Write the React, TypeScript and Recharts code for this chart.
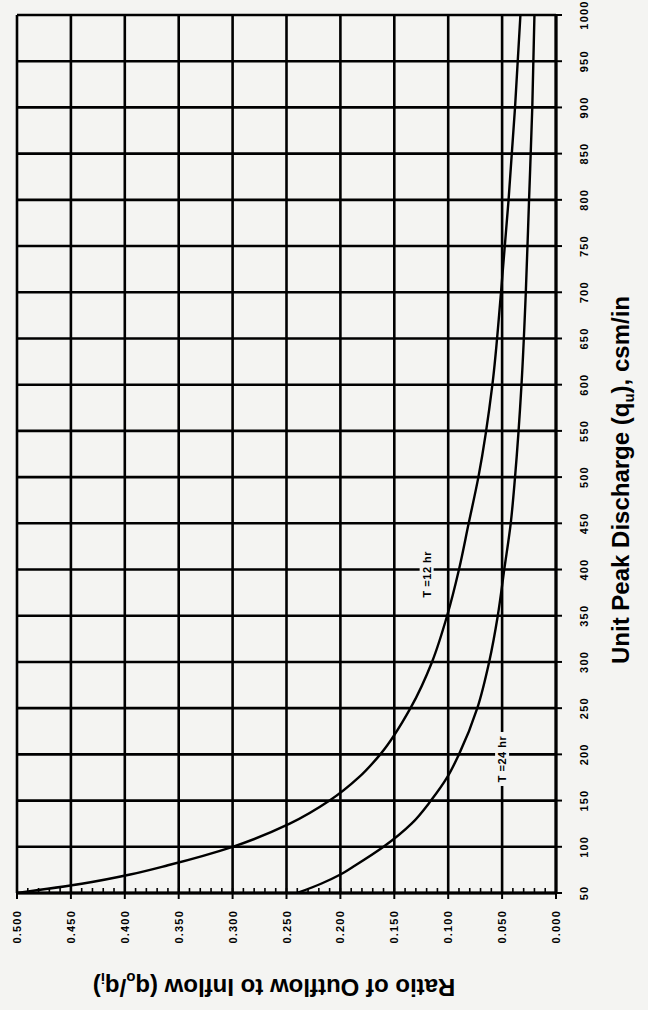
import { ComposedChart, Line, XAxis, YAxis, CartesianGrid, ReferenceDot } from 'recharts'

// unit peak discharge, csm/in
const discharge = [50, 60, 70, 80, 100, 125, 150, 175, 200, 250, 300, 350, 400, 450, 500, 600, 700, 800, 900, 1000]
// ratio of outflow to inflow for each storm duration
const ratioT12 = [0.5, 0.44, 0.395, 0.36, 0.3, 0.247, 0.21, 0.183, 0.163, 0.135, 0.115, 0.101, 0.09, 0.081, 0.072, 0.059, 0.051, 0.044, 0.038, 0.033]
const ratioT24 = [0.24, 0.218, 0.2, 0.186, 0.16, 0.134, 0.116, 0.101, 0.09, 0.073, 0.062, 0.054, 0.048, 0.042, 0.038, 0.032, 0.028, 0.025, 0.022, 0.02]

const ratioTicks = [0, 0.05, 0.1, 0.15, 0.2, 0.25, 0.3, 0.35, 0.4, 0.45, 0.5]
const dischargeTicks = [50, 100, 150, 200, 250, 300, 350, 400, 450, 500, 550, 600, 650, 700, 750, 800, 850, 900, 950, 1000]
const ratioMinorTicks = Array.from({ length: 51 }, (_, i) => i / 100)
const dischargeMinorTicks = Array.from({ length: 96 }, (_, i) => 50 + i * 10)

const data = discharge.map((q, i) => ({ q, t12: ratioT12[i], t24: ratioT24[i] }))

const tickFont = { fontFamily: 'Liberation Sans, Arial, sans-serif', fontWeight: 700, fontSize: 11, letterSpacing: 1.2 }
const titleFont = { fontFamily: 'Liberation Sans, Arial, sans-serif', fontWeight: 700, fontSize: 24 }

const RatioTick = ({ x, y, payload }: any) => (
  <text x={x} y={y + 9} transform={`rotate(-90, ${x}, ${y + 9})`} textAnchor="end" dominantBaseline="central" fill="#000" style={tickFont}>
    {Number(payload.value).toFixed(3)}
  </text>
)

const DischargeTick = ({ x, y, payload }: any) => (
  <text x={x + 20} y={y} transform={`rotate(-90, ${x + 20}, ${y})`} textAnchor="middle" dominantBaseline="central" fill="#000" style={tickFont}>
    {payload.value}
  </text>
)

// small inward tick marks along the axes
const MinorTickX = ({ x }: any) => <line x1={x} x2={x} y1={893} y2={888} stroke="#000" strokeWidth={1.6} />
const MinorTickY = ({ y }: any) => <line x1={551} x2={556} y1={y} y2={y} stroke="#000" strokeWidth={1.6} />

const curveLabel = (text: string) => (p: any) => (
  <g transform={`rotate(-90, ${p.cx}, ${p.cy})`}>
    <rect x={p.cx - 27} y={p.cy - 7} width={54} height={14} fill="#f4f4f2" />
    <text x={p.cx} y={p.cy} textAnchor="middle" dominantBaseline="central" fill="#000" style={{ ...tickFont, fontSize: 11, letterSpacing: 0.5 }}>
      {text}
    </text>
  </g>
)

function App() {
  return (
    <div style={{ position: 'absolute', left: 0, top: 0, width: 648, height: 1010, background: '#f4f4f2' }}>
      <ComposedChart width={648} height={1010} data={data} layout="vertical" margin={{ top: 15, left: 17, right: 52, bottom: 67 }}>
        <CartesianGrid stroke="#000" strokeWidth={2.6} />
        <XAxis type="number" dataKey="t12" domain={[0, 0.5]} reversed ticks={ratioTicks} interval={0} height={50}
          axisLine={{ stroke: '#000', strokeWidth: 3 }} tickLine={{ stroke: '#000', strokeWidth: 2 }} tickSize={6} tick={<RatioTick />} allowDataOverflow />
        <XAxis xAxisId="minor" type="number" domain={[0, 0.5]} reversed ticks={ratioMinorTicks} interval={0} mirror
          axisLine={false} tickLine={false} tick={<MinorTickX />} allowDataOverflow />
        <YAxis type="number" dataKey="q" orientation="right" reversed domain={[50, 1000]} ticks={dischargeTicks} interval={0} width={40}
          axisLine={{ stroke: '#000', strokeWidth: 3 }} tickLine={{ stroke: '#000', strokeWidth: 2 }} tickSize={6} tick={<DischargeTick />} allowDataOverflow />
        <YAxis yAxisId="minor" type="number" orientation="right" reversed domain={[50, 1000]} ticks={dischargeMinorTicks} interval={0} mirror
          axisLine={false} tickLine={false} tick={<MinorTickY />} allowDataOverflow />
        <Line type="monotone" dataKey="t12" stroke="#000" strokeWidth={2.4} dot={false} isAnimationActive={false} />
        <Line type="monotone" dataKey="t24" stroke="#000" strokeWidth={2.4} dot={false} isAnimationActive={false} />
        <ReferenceDot x={0.12} y={395} r={0} shape={curveLabel('T =12 hr')} />
        <ReferenceDot x={0.05} y={195} r={0} shape={curveLabel('T =24 hr')} />
      </ComposedChart>
      <svg width={648} height={1010} style={{ position: 'absolute', left: 0, top: 0, pointerEvents: 'none' }}>
        <text x={620} y={480} transform="rotate(-90, 620, 480)" textAnchor="middle" dominantBaseline="central" style={titleFont} fill="#000">
          Unit Peak Discharge (q<tspan baselineShift="sub" fontSize={15}>u</tspan>), csm/in
        </text>
        <text x={274} y={987} transform="rotate(180, 274, 987)" textAnchor="middle" dominantBaseline="central" style={titleFont} fill="#000">
          Ratio of Outflow to Inflow (q<tspan baselineShift="sub" fontSize={15}>o</tspan>/q<tspan baselineShift="sub" fontSize={15}>i</tspan>)
        </text>
      </svg>
    </div>
  )
}

export default App
